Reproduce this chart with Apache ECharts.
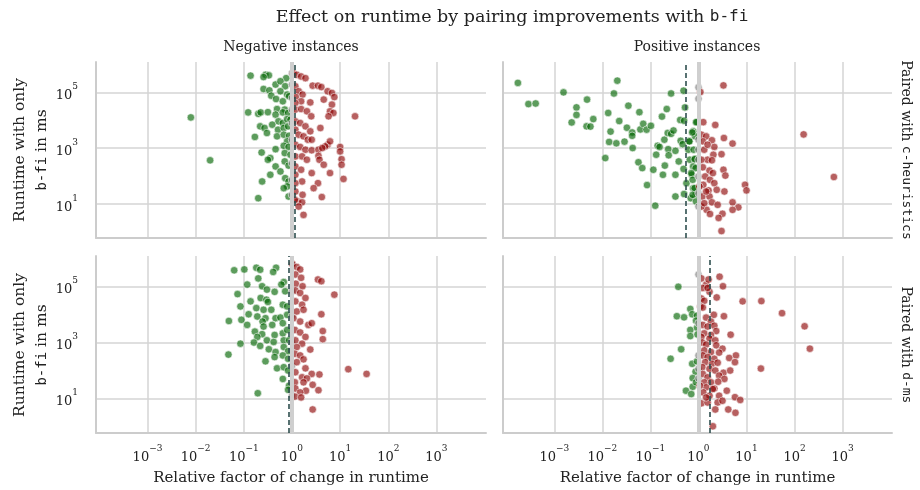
<!DOCTYPE html>
<html><head><meta charset="utf-8">
<script src="https://cdn.jsdelivr.net/npm/echarts@6/dist/echarts.min.js"></script>
<style>html,body{margin:0;padding:0;background:#fff}#c{width:920px;height:490px}</style>
</head><body><div id="c"></div><script>
const SERIF = '"DejaVu Serif", "Liberation Serif", serif';
const MONO = '"DejaVu Sans Mono", "Liberation Mono", monospace';

const titleText = 'Effect on runtime by pairing improvements with ';
const titleCode = 'b-fi';
const columnTitles = ['Negative instances', 'Positive instances'];
const rowPairings = ['c-heuristics', 'd-ms'];
const xAxisTitle = 'Relative factor of change in runtime';
const xTickValues = [1e-3, 1e-2, 1e-1, 1, 10, 100, 1000];
const yTickValues = [10, 1000, 100000];
const xRangeLog10 = [-4.07, 4.03];
const yRangeLog10 = [-0.23, 6.09];
// log10 of the median relative factor per panel (dashed line)
const medianFactorLog10 = [0.055, -0.26, -0.07, 0.24];

// points: [log10(relative factor), log10(runtime with only b-fi, ms)]
const negC = [
[-0.86,5.60],[-0.55,5.63],[-0.48,5.61],[-0.59,5.55],[-0.12,5.51],[-0.34,5.28],[-0.24,5.40],[-0.14,5.22],[-0.59,5.12],[-0.47,5.07],
[-0.24,5.04],[-0.43,4.88],[-0.33,4.76],[-0.19,4.68],[-0.10,4.92],[-0.06,4.86],[-0.31,4.40],[-0.15,4.38],[-0.91,4.28],[-0.70,4.23],
[-0.65,4.28],[-0.50,4.29],[-0.34,4.20],[-0.19,4.28],[-0.08,4.26],[-0.28,3.96],[-0.19,3.90],[-0.10,4.04],[-0.03,4.02],[-0.66,3.78],
[-0.57,3.72],[-0.41,3.84],[-0.29,3.66],[-0.17,3.72],[-0.08,3.78],[-0.52,3.54],[-0.31,3.42],[-0.17,3.48],[-0.06,3.44],[-0.77,3.40],
[-0.10,3.24],[-0.34,2.96],[-0.17,3.08],[-0.07,3.04],[-0.63,2.84],[-0.15,2.82],[-0.03,2.76],[-0.45,2.64],[-0.50,2.58],[-0.34,2.34],
[-0.24,2.16],[-0.15,2.52],[-0.07,2.37],[-0.45,2.04],[-0.14,1.92],[-0.07,1.80],[-0.62,1.80],[-0.10,1.62],[-0.17,1.56],[-0.70,1.20],
[-0.07,1.26],[-1.70,2.56],[-2.10,4.10],
[0,5.69],[0,5.28],[0,4.80],[0,4.38],[0,3.90],[0,3.30],[0,2.46],[0,1.86],[0,1.32],
[0.03,5.69],[0.10,5.63],[0.19,5.57],[0.28,5.51],[0.43,5.24],[0.54,5.24],[0.61,5.19],[0.07,5.22],[0.14,5.04],[0.22,4.92],
[0.08,4.83],[0.19,4.68],[0.38,4.64],[0.07,4.62],[0.74,5.04],[0.83,4.98],[0.88,4.83],[0.66,4.74],[0.83,4.56],[0.07,4.38],
[0.19,4.40],[0.31,4.32],[0.40,4.14],[0.79,4.32],[0.86,4.26],[0.76,4.14],[1.31,4.14],[0.07,3.96],[0.17,3.90],[0.28,3.78],
[0.38,3.60],[0.59,3.72],[0.07,3.66],[0.14,3.48],[0.24,3.42],[0.33,3.30],[0.41,3.30],[0.74,3.12],[0.79,3.24],[0.69,3.06],
[0.07,3.12],[0.17,3.04],[0.28,2.94],[0.41,2.92],[0.55,2.94],[0.63,3.00],[1.00,3.04],[1.00,2.88],[0.07,2.70],[0.21,2.70],
[0.31,2.58],[0.55,2.72],[0.57,2.58],[0.66,2.40],[1.03,2.60],[1.03,2.40],[0.07,2.34],[0.19,2.22],[0.79,2.10],[0.41,2.10],
[0.07,2.04],[0.21,1.80],[0.54,1.74],[1.07,1.89],[0.07,1.74],[0.45,1.56],[0.62,1.24],[0.07,1.44],[0.22,1.32],[0.12,1.08],
[0.21,1.05],[0.06,1.14],[0.24,0.60],[0.14,0.90]
];
const posC = [
[-3.76,5.34],[-3.54,4.58],[-3.39,4.60],[-2.81,5.00],[-1.69,5.42],[-1.76,4.96],[-2.32,4.74],[-2.54,4.46],[-2.54,4.19],[-2.64,3.92],
[-2.33,3.78],[-2.25,3.77],[-2.19,4.04],[-1.88,4.26],[-1.46,4.52],[-1.23,4.29],[-1.65,3.97],[-1.49,3.73],[-1.83,3.59],[-1.38,3.56],
[-1.38,3.44],[-1.21,3.67],[-1.15,3.87],[-1.08,3.66],[-0.99,3.80],[-0.66,4.40],[-0.76,4.13],[-0.57,4.96],[-0.31,5.06],[-0.28,4.46],
[-0.38,4.01],[-0.30,3.98],[-0.03,3.93],[-1.86,3.22],[-1.71,3.17],[-1.54,3.23],[-1.37,3.00],[-1.94,2.64],[-1.25,2.49],[-1.17,2.28],
[-1.07,1.67],[-0.90,0.93],[-0.85,3.08],[-0.88,2.76],[-0.94,2.22],[-0.74,2.04],[-0.70,2.37],[-0.63,2.96],[-0.62,2.74],[-0.48,2.90],
[-0.71,3.30],[-0.64,3.54],[-0.57,3.51],[-0.52,3.63],[-0.37,3.26],[-0.33,3.14],[-0.19,3.24],[-0.11,3.60],[-0.07,3.42],[-0.41,2.52],
[-0.48,2.04],[-0.31,2.25],[-0.25,1.74],[-0.30,1.35],[-0.48,1.26],[-0.18,2.58],[-0.11,2.34],[-0.07,2.62],[-0.14,2.04],[-0.11,1.56],
[-0.06,1.32],[-0.16,1.20],[-0.21,2.94],[-0.81,3.04],
[-0.05,3.93],[-0.13,3.56],[-0.19,3.24],[-0.10,2.94],[-0.08,2.60],[-0.06,2.28],[-0.15,2.10],[-0.12,1.86],[-0.08,1.56],[-0.12,1.32],[-0.05,1.08],
[0,5.18],[0,4.77],[0,3.30],[0,2.94],[0,2.58],[0,1.98],[0,1.38],[0,0.90],
[0.04,5.01],[0.52,5.25],[0.10,3.93],[0.35,3.83],[0.06,3.48],[0.16,3.42],[0.28,3.28],[0.53,3.36],[0.71,3.16],[0.09,3.24],
[0.33,3.04],[0.48,2.78],[0.12,2.94],[0.31,2.76],[0.19,2.58],[0.28,2.56],[0.09,2.31],[0.23,2.19],[0.52,2.22],[0.56,2.01],
[0.14,1.98],[0.24,1.86],[0.10,1.68],[0.33,1.74],[0.21,1.48],[0.38,1.50],[0.54,1.44],[0.97,1.68],[1.00,1.48],[0.08,1.26],
[0.23,1.26],[0.28,1.05],[0.40,0.96],[0.71,1.05],[0.83,0.87],[0.71,0.78],[0.17,0.78],[0.24,0.63],[0.50,0.64],[0.42,0.49],
[0.48,0.02],[2.19,3.49],[2.82,1.96],[0.06,0.90],[0.12,1.02],[0.02,1.62],[0.16,1.44],[0.30,2.10],[0.06,2.58],[0.19,3.12]
];
const negD = [
[-1.20,5.58],[-0.99,5.61],[-0.74,5.67],[-0.66,5.60],[-0.33,5.67],[-0.39,5.52],[-0.70,5.29],[-0.93,5.07],[-0.17,5.16],[-0.22,5.07],
[-0.62,5.01],[-0.52,4.89],[-0.36,4.81],[-1.13,4.73],[-0.65,4.59],[-0.53,4.53],[-0.50,4.45],[-0.14,4.83],[-0.86,4.47],[-1.07,4.29],
[-0.74,4.23],[-0.59,4.17],[-0.43,4.17],[-0.19,4.35],[-0.10,4.29],[-0.90,4.01],[-0.72,3.93],[-0.55,3.87],[-0.34,3.87],[-0.24,3.89],
[-0.10,3.99],[-1.31,3.77],[-1.05,3.81],[-0.93,3.63],[-0.61,3.75],[-0.41,3.63],[-0.19,3.69],[-0.59,3.57],[-0.77,3.39],[-0.62,3.30],
[-0.36,3.27],[-0.19,3.33],[-0.10,3.45],[-0.72,3.20],[-0.52,3.08],[-0.38,3.02],[-0.17,3.08],[-0.06,3.08],[-1.07,2.96],[-0.79,3.00],
[-0.66,2.88],[-0.48,2.76],[-0.34,2.66],[-0.17,2.84],[-0.08,2.69],[-1.32,2.57],[-0.55,2.33],[-0.36,2.48],[-0.19,2.54],[-0.08,2.42],
[-0.31,2.08],[-0.17,2.12],[-0.08,2.00],[-0.19,1.70],[-0.06,1.46],[-0.08,1.31],[-0.71,1.19],
[0,5.80],[0,4.83],[0,3.95],[0,3.02],[0,2.18],[0,1.10],
[0.01,5.80],[0.10,5.70],[0.17,5.61],[0.07,5.43],[0.19,5.31],[0.54,5.25],[0.61,5.19],[0.08,5.10],[0.22,5.01],[0.07,4.86],
[0.17,4.77],[0.28,4.59],[0.88,4.71],[0.07,4.47],[0.21,4.35],[0.10,4.11],[0.24,4.17],[0.61,4.01],[0.03,3.87],[0.17,3.75],
[0.34,3.63],[0.41,3.69],[0.06,3.45],[0.17,3.36],[0.64,3.41],[0.28,3.20],[0.64,3.12],[0.07,3.08],[0.21,2.96],[0.10,2.84],
[0.38,2.75],[0.06,2.60],[0.17,2.54],[0.24,2.40],[0.10,2.30],[0.28,2.08],[0.41,1.88],[0.57,1.86],[1.17,2.05],[1.55,1.88],
[0.07,1.94],[0.21,1.76],[0.31,1.72],[0.06,1.58],[0.24,1.58],[0.43,1.49],[0.07,1.36],[0.29,1.28],[0.55,1.30],[0.17,1.22],
[0.06,1.07],[0.19,1.04],[0.43,0.61]
];
const posD = [
[-0.42,4.99],[-0.17,4.20],[-0.13,4.01],[-0.45,3.94],[-0.30,3.90],[-0.03,3.96],[-0.05,3.78],[-0.17,3.45],[-0.03,3.53],[-0.17,3.23],
[-0.02,3.29],[-0.36,2.76],[-0.58,2.42],[-0.13,2.24],[-0.03,2.33],[-0.06,1.96],[-0.12,1.73],[-0.26,1.28],[-0.12,1.42],[-0.15,1.16],[-0.05,1.58],
[0,5.43],[0,3.69],[0,2.54],[0,2.06],[0,1.72],
[0.44,5.35],[0.51,5.01],[0.06,5.29],[0.16,5.07],[0.21,5.25],[0.09,4.95],[0.23,4.81],[0.19,4.95],[0.38,4.61],[0.06,4.57],
[0.12,4.49],[0.04,4.29],[0.09,4.25],[0.92,4.47],[1.31,4.48],[1.74,4.05],[2.21,3.58],[2.32,2.78],[1.30,2.07],[0.32,3.99],
[0.53,3.94],[0.16,3.89],[0.26,3.75],[0.09,3.63],[0.19,3.57],[0.33,3.60],[0.37,3.41],[0.12,3.33],[0.26,3.27],[0.06,3.20],
[0.67,3.28],[0.23,3.14],[0.35,3.08],[0.08,3.00],[0.16,2.93],[0.37,2.90],[0.50,2.78],[0.12,2.72],[0.26,2.66],[0.43,2.64],
[0.09,2.54],[0.19,2.48],[0.33,2.42],[0.78,2.54],[0.64,2.45],[0.76,2.30],[0.14,2.30],[0.28,2.24],[0.40,2.28],[0.08,2.12],
[0.23,2.06],[0.35,2.00],[0.52,1.92],[0.66,2.00],[0.09,1.88],[0.19,1.76],[0.43,1.82],[0.54,1.70],[0.12,1.58],[0.26,1.58],
[0.41,1.60],[0.16,1.40],[0.33,1.36],[0.59,1.28],[0.10,1.22],[0.23,1.10],[0.43,1.10],[0.76,1.05],[0.87,0.95],[0.06,0.83],
[0.19,0.86],[0.40,0.86],[0.50,0.92],[0.35,0.61],[0.62,0.61],[0.77,0.49],[0.30,0.01],[0.16,1.04],[0.30,1.34],[0.03,1.46]
];
const panels = [negC, posC, negD, posD];

const GREEN = 'rgba(0,100,0,0.8)', RED = 'rgba(139,0,0,0.78)', GRAY = 'rgba(128,128,128,0.8)';
const INK = '#222';
const gridBoxes = [
  {left: 96, top: 62, width: 390, height: 176},
  {left: 503, top: 62, width: 389, height: 176},
  {left: 96, top: 256, width: 390, height: 177},
  {left: 503, top: 256, width: 389, height: 177}
];
const GRIDC = '#d4d4d4';
function powLabel(v) {
  const e = Math.round(Math.log10(v));
  return '{b|10}{s|' + String(e).replace('-', '\u2212') + '}';
}
const richPow = {
  b: {fontFamily: SERIF, fontSize: 13, color: INK, lineHeight: 20, verticalAlign: 'bottom'},
  s: {fontFamily: SERIF, fontSize: 9, color: INK, lineHeight: 10, verticalAlign: 'top'}
};

const xAxes = [], yAxes = [], series = [];
gridBoxes.forEach((g, i) => {
  const bottomRow = i >= 2, leftCol = i % 2 === 0;
  xAxes.push({
    type: 'log', gridIndex: i, logBase: 10,
    min: Math.pow(10, xRangeLog10[0]), max: Math.pow(10, xRangeLog10[1]),
    axisLine: {show: true, lineStyle: {color: '#cccccc', width: 2}},
    axisTick: {show: false, customValues: xTickValues},
    axisLabel: {show: bottomRow, customValues: xTickValues, formatter: powLabel, rich: richPow, margin: 11},
    splitLine: {show: true, lineStyle: {color: GRIDC, width: 1.5}},
    name: bottomRow ? xAxisTitle : '', nameLocation: 'middle', nameGap: 38,
    nameTextStyle: {fontFamily: SERIF, fontSize: 15, color: INK}
  });
  yAxes.push({
    type: 'log', gridIndex: i, logBase: 10,
    min: Math.pow(10, yRangeLog10[0]), max: Math.pow(10, yRangeLog10[1]),
    axisLine: {show: true, lineStyle: {color: '#cccccc', width: 2}},
    axisTick: {show: false, customValues: yTickValues},
    axisLabel: {show: leftCol, customValues: yTickValues, formatter: powLabel, rich: richPow, margin: 18},
    splitLine: {show: true, lineStyle: {color: GRIDC, width: 1.5}}
  });
  // reference line at factor 1 (no change)
  series.push({
    type: 'scatter', xAxisIndex: i, yAxisIndex: i, data: [], z: 1, silent: true,
    markLine: {silent: true, symbol: 'none', label: {show: false},
      lineStyle: {color: '#cfcfcf', width: 4, type: 'solid'}, data: [{xAxis: 1}]}
  });
  series.push({
    type: 'scatter', xAxisIndex: i, yAxisIndex: i, z: 3, symbolSize: 7.5,
    data: panels[i].map(p => [Math.pow(10, p[0]), Math.pow(10, p[1])]),
    itemStyle: {
      color: (params) => params.value[0] < 1 ? GREEN : (params.value[0] > 1 ? RED : GRAY),
      borderColor: 'rgba(255,255,255,0.9)', borderWidth: 0.8
    }
  });
  series.push({
    type: 'scatter', xAxisIndex: i, yAxisIndex: i, data: [], z: 5, silent: true,
    markLine: {silent: true, symbol: 'none', label: {show: false},
      lineStyle: {color: '#2f4f4f', width: 1.6, type: [5, 3]},
      data: [{xAxis: Math.pow(10, medianFactorLog10[i])}]}
  });
});

const graphics = [
  {type: 'text', x: 512, y: 17, style: {
    text: '{t|' + titleText + '}{m|' + titleCode + '}', align: 'center', verticalAlign: 'middle',
    rich: {t: {fontFamily: SERIF, fontSize: 17.5, fill: INK}, m: {fontFamily: MONO, fontSize: 16, fill: INK}}}},
  {type: 'text', x: 291, y: 47, style: {text: columnTitles[0], fontFamily: SERIF, fontSize: 14, fill: INK, align: 'center', verticalAlign: 'middle'}},
  {type: 'text', x: 697, y: 47, style: {text: columnTitles[1], fontFamily: SERIF, fontSize: 14, fill: INK, align: 'center', verticalAlign: 'middle'}}
];
[150, 345].forEach((cy, r) => {
  graphics.push({type: 'text', x: 31, y: cy, rotation: Math.PI / 2, style: {
    text: '{t|Runtime with only}\n{m|b-fi}{t| in ms}', align: 'center', verticalAlign: 'middle',
    rich: {t: {fontFamily: SERIF, fontSize: 15.5, fill: INK, lineHeight: 22}, m: {fontFamily: MONO, fontSize: 14, fill: INK, lineHeight: 22}}}});
  graphics.push({type: 'text', x: 906, y: cy, rotation: -Math.PI / 2, style: {
    text: '{t|Paired with }{m|' + rowPairings[r] + '}', align: 'center', verticalAlign: 'middle',
    rich: {t: {fontFamily: SERIF, fontSize: 14, fill: INK}, m: {fontFamily: MONO, fontSize: 13, fill: INK}}}});
});

const chart = echarts.init(document.getElementById('c'), null, {renderer: 'canvas'});
chart.setOption({
  animation: false,
  backgroundColor: '#fff',
  grid: gridBoxes.map(g => Object.assign({containLabel: false}, g)),
  xAxis: xAxes, yAxis: yAxes, series: series, graphic: graphics
});
</script></body></html>
